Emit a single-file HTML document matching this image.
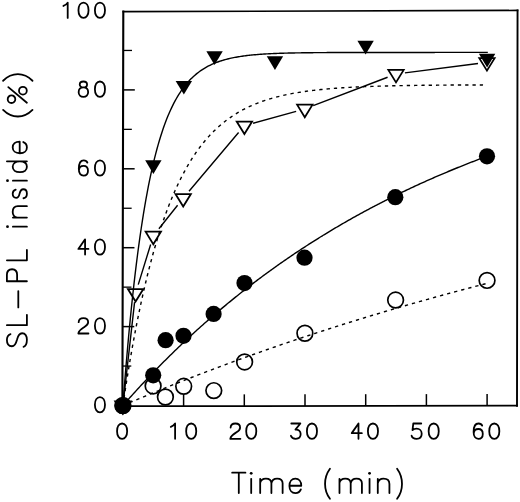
<!DOCTYPE html><html><head><meta charset="utf-8"><style>html,body{margin:0;padding:0;background:#fff;}svg{display:block}</style></head><body>
<svg width="520" height="502" viewBox="0 0 520 502">
<rect width="520" height="502" fill="#fff"/>
<g stroke="#000" fill="none" stroke-linecap="square">
<line x1="123.3" y1="11.6" x2="122.4" y2="406.2" stroke-width="2.1"/>
<line x1="123.3" y1="11.6" x2="517.55" y2="10.4" stroke-width="1.6"/>
<line x1="517.55" y1="10.4" x2="517.0" y2="405.7" stroke-width="1.9"/>
<line x1="122.4" y1="406.2" x2="517.0" y2="405.7" stroke-width="1.8"/>
</g>
<g stroke="#000">
<line x1="122.49" y1="366.05" x2="131.29" y2="366.05" stroke-width="1.3"/>
<line x1="122.58" y1="326.60" x2="134.28" y2="326.60" stroke-width="1.5"/>
<line x1="122.67" y1="287.15" x2="131.47" y2="287.15" stroke-width="1.3"/>
<line x1="122.76" y1="247.70" x2="134.46" y2="247.70" stroke-width="1.5"/>
<line x1="122.85" y1="208.25" x2="131.65" y2="208.25" stroke-width="1.3"/>
<line x1="122.94" y1="168.80" x2="134.64" y2="168.80" stroke-width="1.5"/>
<line x1="123.03" y1="129.35" x2="131.83" y2="129.35" stroke-width="1.3"/>
<line x1="123.12" y1="89.90" x2="134.82" y2="89.90" stroke-width="1.5"/>
<line x1="123.21" y1="50.45" x2="132.01" y2="50.45" stroke-width="1.3"/>
<line x1="183.60" y1="406.12" x2="183.60" y2="394.42" stroke-width="1.5"/>
<line x1="244.30" y1="406.05" x2="244.30" y2="394.35" stroke-width="1.5"/>
<line x1="305.00" y1="405.97" x2="305.00" y2="394.27" stroke-width="1.5"/>
<line x1="365.70" y1="405.89" x2="365.70" y2="394.19" stroke-width="1.5"/>
<line x1="426.40" y1="405.81" x2="426.40" y2="394.11" stroke-width="1.5"/>
<line x1="487.10" y1="405.74" x2="487.10" y2="394.04" stroke-width="1.5"/>
</g>
<g fill="none" stroke="#000" stroke-linecap="round" stroke-linejoin="round">
<path transform="translate(67.70,17.90) scale(0.153) translate(0.0,0)" d="M0,0 V-100 C-6,-90 -16,-82 -28,-78" vector-effect="non-scaling-stroke" stroke-width="1.8"/>
<path transform="translate(83.50,17.90) scale(0.153) translate(-33.0,0)" d="M33,-100 C52.8,-100 66,-80.0 66,-50 C66,-20.0 52.8,0 33,0 C13.2,0 0,-20.0 0,-50 C0,-80.0 13.2,-100 33,-100 Z" vector-effect="non-scaling-stroke" stroke-width="1.8"/>
<path transform="translate(99.95,17.90) scale(0.153) translate(-33.0,0)" d="M33,-100 C52.8,-100 66,-80.0 66,-50 C66,-20.0 52.8,0 33,0 C13.2,0 0,-20.0 0,-50 C0,-80.0 13.2,-100 33,-100 Z" vector-effect="non-scaling-stroke" stroke-width="1.8"/>
<path transform="translate(83.40,96.80) scale(0.153) translate(-31.0,0)" d="M31,-100.0 C45.4,-100.0 55,-92.2 55,-80.5 C55,-68.8 45.4,-61.0 31,-61.0 C16.6,-61.0 7,-68.8 7,-80.5 C7,-92.2 16.6,-100.0 31,-100.0 Z M31,-61.0 C49.599999999999994,-61.0 62,-48.8 62,-30.5 C62,-12.2 49.599999999999994,0.0 31,0.0 C12.400000000000002,0.0 0,-12.2 0,-30.5 C0,-48.8 12.400000000000002,-61.0 31,-61.0 Z" vector-effect="non-scaling-stroke" stroke-width="1.8"/>
<path transform="translate(99.95,96.80) scale(0.153) translate(-33.0,0)" d="M33,-100 C52.8,-100 66,-80.0 66,-50 C66,-20.0 52.8,0 33,0 C13.2,0 0,-20.0 0,-50 C0,-80.0 13.2,-100 33,-100 Z" vector-effect="non-scaling-stroke" stroke-width="1.8"/>
<path transform="translate(83.40,175.70) scale(0.153) translate(-30.0,0)" d="M56,-86 C52,-96 43,-100 32,-100 C12,-100 0,-80 0,-45 C0,-15 12,0 31,0 C48,0 60,-13 60,-32 C60,-51 48,-64 31,-64 C14,-64 2,-52 1,-36" vector-effect="non-scaling-stroke" stroke-width="1.8"/>
<path transform="translate(99.95,175.70) scale(0.153) translate(-33.0,0)" d="M33,-100 C52.8,-100 66,-80.0 66,-50 C66,-20.0 52.8,0 33,0 C13.2,0 0,-20.0 0,-50 C0,-80.0 13.2,-100 33,-100 Z" vector-effect="non-scaling-stroke" stroke-width="1.8"/>
<path transform="translate(83.40,254.60) scale(0.153) translate(-33.0,0)" d="M44,0 V-100 L0,-37 H66" vector-effect="non-scaling-stroke" stroke-width="1.8"/>
<path transform="translate(99.95,254.60) scale(0.153) translate(-33.0,0)" d="M33,-100 C52.8,-100 66,-80.0 66,-50 C66,-20.0 52.8,0 33,0 C13.2,0 0,-20.0 0,-50 C0,-80.0 13.2,-100 33,-100 Z" vector-effect="non-scaling-stroke" stroke-width="1.8"/>
<path transform="translate(83.40,333.50) scale(0.153) translate(-33.0,0)" d="M2,-74 C3,-91 15,-100 33,-100 C52,-100 64,-89 64,-73 C64,-58 53,-50 38,-41 C20,-30 3,-20 0,0 H66" vector-effect="non-scaling-stroke" stroke-width="1.8"/>
<path transform="translate(99.95,333.50) scale(0.153) translate(-33.0,0)" d="M33,-100 C52.8,-100 66,-80.0 66,-50 C66,-20.0 52.8,0 33,0 C13.2,0 0,-20.0 0,-50 C0,-80.0 13.2,-100 33,-100 Z" vector-effect="non-scaling-stroke" stroke-width="1.8"/>
<path transform="translate(99.95,412.40) scale(0.153) translate(-33.0,0)" d="M33,-100 C52.8,-100 66,-80.0 66,-50 C66,-20.0 52.8,0 33,0 C13.2,0 0,-20.0 0,-50 C0,-80.0 13.2,-100 33,-100 Z" vector-effect="non-scaling-stroke" stroke-width="1.8"/>
<path transform="translate(122.10,438.80) scale(0.153) translate(-33.0,0)" d="M33,-100 C52.8,-100 66,-80.0 66,-50 C66,-20.0 52.8,0 33,0 C13.2,0 0,-20.0 0,-50 C0,-80.0 13.2,-100 33,-100 Z" vector-effect="non-scaling-stroke" stroke-width="1.8"/>
<path transform="translate(175.10,438.80) scale(0.153) translate(0.0,0)" d="M0,0 V-100 C-6,-90 -16,-82 -28,-78" vector-effect="non-scaling-stroke" stroke-width="1.8"/>
<path transform="translate(191.20,438.80) scale(0.153) translate(-33.0,0)" d="M33,-100 C52.8,-100 66,-80.0 66,-50 C66,-20.0 52.8,0 33,0 C13.2,0 0,-20.0 0,-50 C0,-80.0 13.2,-100 33,-100 Z" vector-effect="non-scaling-stroke" stroke-width="1.8"/>
<path transform="translate(235.35,438.80) scale(0.153) translate(-33.0,0)" d="M2,-74 C3,-91 15,-100 33,-100 C52,-100 64,-89 64,-73 C64,-58 53,-50 38,-41 C20,-30 3,-20 0,0 H66" vector-effect="non-scaling-stroke" stroke-width="1.8"/>
<path transform="translate(251.25,438.80) scale(0.153) translate(-33.0,0)" d="M33,-100 C52.8,-100 66,-80.0 66,-50 C66,-20.0 52.8,0 33,0 C13.2,0 0,-20.0 0,-50 C0,-80.0 13.2,-100 33,-100 Z" vector-effect="non-scaling-stroke" stroke-width="1.8"/>
<path transform="translate(295.75,438.80) scale(0.153) translate(-32.0,0)" d="M3,-100 H62 L30,-60 C50,-62 64,-50 64,-31 C64,-12 51,0 32,0 C16,0 4,-8 0,-20" vector-effect="non-scaling-stroke" stroke-width="1.8"/>
<path transform="translate(311.95,438.80) scale(0.153) translate(-33.0,0)" d="M33,-100 C52.8,-100 66,-80.0 66,-50 C66,-20.0 52.8,0 33,0 C13.2,0 0,-20.0 0,-50 C0,-80.0 13.2,-100 33,-100 Z" vector-effect="non-scaling-stroke" stroke-width="1.8"/>
<path transform="translate(356.80,438.80) scale(0.153) translate(-33.0,0)" d="M44,0 V-100 L0,-37 H66" vector-effect="non-scaling-stroke" stroke-width="1.8"/>
<path transform="translate(372.95,438.80) scale(0.153) translate(-33.0,0)" d="M33,-100 C52.8,-100 66,-80.0 66,-50 C66,-20.0 52.8,0 33,0 C13.2,0 0,-20.0 0,-50 C0,-80.0 13.2,-100 33,-100 Z" vector-effect="non-scaling-stroke" stroke-width="1.8"/>
<path transform="translate(416.65,438.80) scale(0.153) translate(-33.0,0)" d="M63,-100 H11 L6,-57 C13,-63 22,-66 33,-66 C52,-66 66,-53 66,-33 C66,-12 52,0 33,0 C16,0 3,-9 0,-20" vector-effect="non-scaling-stroke" stroke-width="1.8"/>
<path transform="translate(433.70,438.80) scale(0.153) translate(-33.0,0)" d="M33,-100 C52.8,-100 66,-80.0 66,-50 C66,-20.0 52.8,0 33,0 C13.2,0 0,-20.0 0,-50 C0,-80.0 13.2,-100 33,-100 Z" vector-effect="non-scaling-stroke" stroke-width="1.8"/>
<path transform="translate(478.20,438.80) scale(0.153) translate(-30.0,0)" d="M56,-86 C52,-96 43,-100 32,-100 C12,-100 0,-80 0,-45 C0,-15 12,0 31,0 C48,0 60,-13 60,-32 C60,-51 48,-64 31,-64 C14,-64 2,-52 1,-36" vector-effect="non-scaling-stroke" stroke-width="1.8"/>
<path transform="translate(494.30,438.80) scale(0.153) translate(-33.0,0)" d="M33,-100 C52.8,-100 66,-80.0 66,-50 C66,-20.0 52.8,0 33,0 C13.2,0 0,-20.0 0,-50 C0,-80.0 13.2,-100 33,-100 Z" vector-effect="non-scaling-stroke" stroke-width="1.8"/>
<path transform="translate(238.80,493.10) scale(0.204) translate(-32.5,0)" d="M0,-100 H65 M32.5,-100 V0" vector-effect="non-scaling-stroke" stroke-width="1.8"/>
<path transform="translate(251.20,493.10) scale(0.204) translate(0.0,0)" d="M0,-70 V0" vector-effect="non-scaling-stroke" stroke-width="1.8"/><circle transform="translate(251.20,493.10) scale(0.204) translate(0.0,0)" cx="0" cy="-97" r="7" fill="#000" stroke="none"/>
<path transform="translate(271.40,493.10) scale(0.204) translate(-55.0,0)" d="M0,-70 V0 M0,-50 C3,-64 13,-71 28,-71 C45,-71 55,-63 55,-48 V0 M55,-48 C58,-64 68,-71 83,-71 C100,-71 110,-63 110,-48 V0" vector-effect="non-scaling-stroke" stroke-width="1.8"/>
<path transform="translate(295.35,493.10) scale(0.204) translate(-29.0,0)" d="M1,-36 H58 C58,-58 46,-71 29,-71 C12,-71 0,-57 0,-35 C0,-13 12,0 29,0 C42,0 52,-7 56,-18" vector-effect="non-scaling-stroke" stroke-width="1.8"/>
<path transform="translate(327.50,493.10) scale(0.204) translate(-12.0,0)" d="M24,-119 C8,-97 0,-73 0,-45 C0,-17 8,6 24,28" vector-effect="non-scaling-stroke" stroke-width="1.8"/>
<path transform="translate(350.70,493.10) scale(0.204) translate(-55.0,0)" d="M0,-70 V0 M0,-50 C3,-64 13,-71 28,-71 C45,-71 55,-63 55,-48 V0 M55,-48 C58,-64 68,-71 83,-71 C100,-71 110,-63 110,-48 V0" vector-effect="non-scaling-stroke" stroke-width="1.8"/>
<path transform="translate(369.55,493.10) scale(0.204) translate(0.0,0)" d="M0,-70 V0" vector-effect="non-scaling-stroke" stroke-width="1.8"/><circle transform="translate(369.55,493.10) scale(0.204) translate(0.0,0)" cx="0" cy="-97" r="7" fill="#000" stroke="none"/>
<path transform="translate(383.60,493.10) scale(0.204) translate(-28.5,0)" d="M0,-70 V0 M0,-48 C3,-63 13,-71 28,-71 C46,-71 57,-62 57,-45 V0" vector-effect="non-scaling-stroke" stroke-width="1.8"/>
<path transform="translate(399.55,493.10) scale(0.204) translate(-12.0,0)" d="M0,-119 C16,-97 24,-73 24,-45 C24,-17 16,6 0,28" vector-effect="non-scaling-stroke" stroke-width="1.8"/>
<g transform="rotate(-90)">
<path transform="translate(-340.05,26.90) scale(0.2) translate(-34.0,0)" d="M64,-82 C60,-94 49,-100 34,-100 C16,-100 3,-91 3,-75 C3,-58 18,-54 34,-50 C52,-46 68,-40 68,-24 C68,-8 54,0 35,0 C16,0 3,-6 0,-17" vector-effect="non-scaling-stroke" stroke-width="1.8"/>
<path transform="translate(-320.00,26.90) scale(0.2) translate(-26.0,0)" d="M0,-100 V0 H52" vector-effect="non-scaling-stroke" stroke-width="1.8"/>
<path transform="translate(-299.25,26.90) scale(0.2) translate(-41.0,0)" d="M0,-43 H82" vector-effect="non-scaling-stroke" stroke-width="1.8"/>
<path transform="translate(-275.25,26.90) scale(0.2) translate(-30.0,0)" d="M0,0 V-100 H32 C50,-100 60,-89 60,-74 C60,-59 50,-49 32,-49 H0" vector-effect="non-scaling-stroke" stroke-width="1.8"/>
<path transform="translate(-255.15,26.90) scale(0.2) translate(-26.0,0)" d="M0,-100 V0 H52" vector-effect="non-scaling-stroke" stroke-width="1.8"/>
<path transform="translate(-226.70,26.90) scale(0.2) translate(0.0,0)" d="M0,-70 V0" vector-effect="non-scaling-stroke" stroke-width="1.8"/><circle transform="translate(-226.70,26.90) scale(0.2) translate(0.0,0)" cx="0" cy="-97" r="7" fill="#000" stroke="none"/>
<path transform="translate(-211.90,26.90) scale(0.2) translate(-28.5,0)" d="M0,-70 V0 M0,-48 C3,-63 13,-71 28,-71 C46,-71 57,-62 57,-45 V0" vector-effect="non-scaling-stroke" stroke-width="1.8"/>
<path transform="translate(-193.75,26.90) scale(0.2) translate(-22.5,0)" d="M43,-56 C40,-66 33,-71 22,-71 C10,-71 2,-65 2,-54 C2,-43 12,-39 22,-37 C35,-34 45,-29 45,-18 C45,-6 35,0 23,0 C10,0 2,-6 0,-17" vector-effect="non-scaling-stroke" stroke-width="1.8"/>
<path transform="translate(-180.70,26.90) scale(0.2) translate(0.0,0)" d="M0,-70 V0" vector-effect="non-scaling-stroke" stroke-width="1.8"/><circle transform="translate(-180.70,26.90) scale(0.2) translate(0.0,0)" cx="0" cy="-97" r="7" fill="#000" stroke="none"/>
<path transform="translate(-166.75,26.90) scale(0.2) translate(-27.0,0)" d="M54,-100 V0 M54,-35 C54,-57 43,-71 27,-71 C10,-71 0,-57 0,-35 C0,-13 10,0 27,0 C43,0 54,-13 54,-35" vector-effect="non-scaling-stroke" stroke-width="1.8"/>
<path transform="translate(-147.45,26.90) scale(0.2) translate(-29.0,0)" d="M1,-36 H58 C58,-58 46,-71 29,-71 C12,-71 0,-57 0,-35 C0,-13 12,0 29,0 C42,0 52,-7 56,-18" vector-effect="non-scaling-stroke" stroke-width="1.8"/>
<path transform="translate(-113.20,26.90) scale(0.2) translate(-16.5,0)" d="M33,-119 C11,-97 0,-73 0,-45 C0,-17 11,6 33,28" vector-effect="non-scaling-stroke" stroke-width="1.8"/>
<path transform="translate(-94.90,26.90) scale(0.2) translate(-40.0,0)" d="M1,0 L79,-93 M18.5,-96 C29.14,-96 37.5,-87.64 37.5,-77 C37.5,-66.36 29.14,-58 18.5,-58 C7.859999999999999,-58 -0.5,-66.36 -0.5,-77 C-0.5,-87.64 7.859999999999999,-96 18.5,-96 Z M61,-39.5 C71.92,-39.5 80.5,-30.92 80.5,-20 C80.5,-9.079999999999998 71.92,-0.5 61,-0.5 C50.08,-0.5 41.5,-9.079999999999998 41.5,-20 C41.5,-30.92 50.08,-39.5 61,-39.5 Z" vector-effect="non-scaling-stroke" stroke-width="1.8"/>
<path transform="translate(-77.45,26.90) scale(0.2) translate(-16.5,0)" d="M0,-119 C22,-97 33,-73 33,-45 C33,-17 22,6 0,28" vector-effect="non-scaling-stroke" stroke-width="1.8"/>
</g>
</g>
<path d="M122.90,405.50 L124.11,397.33 L125.33,389.37 L126.54,381.61 L127.76,374.05 L128.97,366.68 L130.18,359.50 L131.40,352.51 L132.61,345.69 L133.83,339.04 L135.04,332.56 L136.25,326.25 L137.47,320.10 L138.68,314.11 L139.90,308.27 L141.11,302.58 L142.32,297.03 L143.54,291.62 L144.75,286.35 L145.97,281.22 L147.18,276.22 L148.39,271.34 L149.61,266.59 L150.82,261.96 L152.04,257.44 L153.25,253.05 L154.46,248.76 L155.68,244.58 L156.89,240.51 L158.11,236.55 L159.32,232.68 L160.53,228.91 L161.75,225.24 L162.96,221.66 L164.18,218.18 L165.39,214.78 L166.60,211.47 L167.82,208.24 L169.03,205.10 L170.25,202.03 L171.46,199.05 L172.67,196.13 L173.89,193.30 L175.10,190.53 L176.32,187.84 L177.53,185.21 L178.74,182.66 L179.96,180.16 L181.17,177.73 L182.39,175.37 L183.60,173.06 L184.81,170.81 L186.03,168.62 L187.24,166.48 L188.46,164.40 L189.67,162.37 L190.88,160.40 L192.10,158.47 L193.31,156.59 L194.53,154.76 L195.74,152.98 L196.95,151.24 L198.17,149.55 L199.38,147.90 L200.60,146.29 L201.81,144.73 L203.02,143.20 L204.24,141.71 L205.45,140.26 L206.67,138.85 L207.88,137.47 L209.09,136.13 L210.31,134.82 L211.52,133.55 L212.74,132.30 L213.95,131.09 L215.16,129.91 L216.38,128.76 L217.59,127.64 L218.81,126.55 L220.02,125.49 L221.23,124.45 L222.45,123.44 L223.66,122.45 L224.88,121.49 L226.09,120.56 L227.30,119.65 L228.52,118.76 L229.73,117.89 L230.95,117.05 L232.16,116.23 L233.37,115.43 L234.59,114.65 L235.80,113.88 L237.02,113.14 L238.23,112.42 L239.44,111.72 L240.66,111.03 L241.87,110.36 L243.09,109.71 L244.30,109.07 L245.51,108.46 L246.73,107.85 L247.94,107.26 L249.16,106.69 L250.37,106.13 L251.58,105.59 L252.80,105.06 L254.01,104.54 L255.23,104.04 L256.44,103.55 L257.65,103.07 L258.87,102.60 L260.08,102.15 L261.30,101.71 L262.51,101.28 L263.72,100.86 L264.94,100.45 L266.15,100.05 L267.37,99.66 L268.58,99.28 L269.79,98.91 L271.01,98.55 L272.22,98.20 L273.44,97.86 L274.65,97.52 L275.86,97.20 L277.08,96.88 L278.29,96.57 L279.51,96.27 L280.72,95.98 L281.93,95.69 L283.15,95.42 L284.36,95.14 L285.58,94.88 L286.79,94.62 L288.00,94.37 L289.22,94.13 L290.43,93.89 L291.65,93.66 L292.86,93.43 L294.07,93.21 L295.29,92.99 L296.50,92.79 L297.72,92.58 L298.93,92.38 L300.14,92.19 L301.36,92.00 L302.57,91.82 L303.79,91.64 L305.00,91.46 L306.21,91.29 L307.43,91.12 L308.64,90.96 L309.86,90.81 L311.07,90.65 L312.28,90.50 L313.50,90.36 L314.71,90.21 L315.93,90.08 L317.14,89.94 L318.35,89.81 L319.57,89.68 L320.78,89.56 L322.00,89.43 L323.21,89.31 L324.42,89.20 L325.64,89.09 L326.85,88.98 L328.07,88.87 L329.28,88.76 L330.49,88.66 L331.71,88.56 L332.92,88.47 L334.14,88.37 L335.35,88.28 L336.56,88.19 L337.78,88.10 L338.99,88.02 L340.21,87.94 L341.42,87.86 L342.63,87.78 L343.85,87.70 L345.06,87.63 L346.28,87.55 L347.49,87.48 L348.70,87.41 L349.92,87.35 L351.13,87.28 L352.35,87.22 L353.56,87.16 L354.77,87.09 L355.99,87.04 L357.20,86.98 L358.42,86.92 L359.63,86.87 L360.84,86.81 L362.06,86.76 L363.27,86.71 L364.49,86.66 L365.70,86.61 L366.91,86.57 L368.13,86.52 L369.34,86.48 L370.56,86.43 L371.77,86.39 L372.98,86.35 L374.20,86.31 L375.41,86.27 L376.63,86.23 L377.84,86.19 L379.05,86.16 L380.27,86.12 L381.48,86.09 L382.70,86.05 L383.91,86.02 L385.12,85.99 L386.34,85.96 L387.55,85.93 L388.77,85.90 L389.98,85.87 L391.19,85.84 L392.41,85.82 L393.62,85.79 L394.84,85.76 L396.05,85.74 L397.26,85.71 L398.48,85.69 L399.69,85.67 L400.91,85.64 L402.12,85.62 L403.33,85.60 L404.55,85.58 L405.76,85.56 L406.98,85.54 L408.19,85.52 L409.40,85.50 L410.62,85.48 L411.83,85.46 L413.05,85.44 L414.26,85.43 L415.47,85.41 L416.69,85.39 L417.90,85.38 L419.12,85.36 L420.33,85.35 L421.54,85.33 L422.76,85.32 L423.97,85.31 L425.19,85.29 L426.40,85.28 L427.61,85.27 L428.83,85.25 L430.04,85.24 L431.26,85.23 L432.47,85.22 L433.68,85.21 L434.90,85.19 L436.11,85.18 L437.33,85.17 L438.54,85.16 L439.75,85.15 L440.97,85.14 L442.18,85.13 L443.40,85.12 L444.61,85.12 L445.82,85.11 L447.04,85.10 L448.25,85.09 L449.47,85.08 L450.68,85.07 L451.89,85.07 L453.11,85.06 L454.32,85.05 L455.54,85.04 L456.75,85.04 L457.96,85.03 L459.18,85.02 L460.39,85.02 L461.61,85.01 L462.82,85.01 L464.03,85.00 L465.25,84.99 L466.46,84.99 L467.68,84.98 L468.89,84.98 L470.10,84.97 L471.32,84.97 L472.53,84.96 L473.75,84.96 L474.96,84.95 L476.17,84.95 L477.39,84.94 L478.60,84.94 L479.82,84.93 L481.03,84.93 L482.24,84.93 L483.46,84.92 L484.67,84.92 L485.89,84.91 L487.10,84.91" fill="none" stroke="#000" stroke-width="1.4" stroke-dasharray="3.3,4"/>
<path d="M123.91,396.56 L134.59,302.13 M138.25,284.59 L150.65,244.44 M158.90,228.79 L177.60,205.23 M189.01,191.31 L238.59,132.56 M253.07,123.28 L296.13,111.33 M313.21,105.71 L387.59,77.24 M404.93,72.87 L478.02,63.44" fill="none" stroke="#000" stroke-width="1.4"/>
<polygon points="115.20,401.31 130.60,401.31 122.90,413.87" fill="none" stroke="#000" stroke-width="1.75" stroke-linejoin="miter"/>
<polygon points="127.90,289.00 143.30,289.00 135.60,301.56" fill="none" stroke="#000" stroke-width="1.75" stroke-linejoin="miter"/>
<polygon points="145.60,231.65 161.00,231.65 153.30,244.21" fill="none" stroke="#000" stroke-width="1.75" stroke-linejoin="miter"/>
<polygon points="175.50,194.00 190.90,194.00 183.20,206.56" fill="none" stroke="#000" stroke-width="1.75" stroke-linejoin="miter"/>
<polygon points="236.70,121.50 252.10,121.50 244.40,134.06" fill="none" stroke="#000" stroke-width="1.75" stroke-linejoin="miter"/>
<polygon points="297.10,104.74 312.50,104.74 304.80,117.30" fill="none" stroke="#000" stroke-width="1.75" stroke-linejoin="miter"/>
<polygon points="388.30,69.84 403.70,69.84 396.00,82.40" fill="none" stroke="#000" stroke-width="1.75" stroke-linejoin="miter"/>
<polygon points="479.25,58.10 494.65,58.10 486.95,70.66" fill="none" stroke="#000" stroke-width="1.75" stroke-linejoin="miter"/>
<path d="M122.90,405.50 L124.12,389.53 L125.33,374.28 L126.55,359.72 L127.77,345.82 L128.98,332.54 L130.20,319.87 L131.41,307.77 L132.63,296.22 L133.85,285.19 L135.06,274.66 L136.28,264.61 L137.50,255.01 L138.71,245.85 L139.93,237.10 L141.15,228.74 L142.36,220.77 L143.58,213.15 L144.80,205.88 L146.01,198.94 L147.23,192.31 L148.44,185.98 L149.66,179.94 L150.88,174.17 L152.09,168.66 L153.31,163.41 L154.53,158.38 L155.74,153.59 L156.96,149.01 L158.18,144.65 L159.39,140.47 L160.61,136.49 L161.83,132.69 L163.04,129.06 L164.26,125.59 L165.47,122.28 L166.69,119.12 L167.91,116.10 L169.12,113.22 L170.34,110.47 L171.56,107.85 L172.77,105.34 L173.99,102.94 L175.21,100.66 L176.42,98.48 L177.64,96.39 L178.86,94.40 L180.07,92.51 L181.29,90.69 L182.50,88.96 L183.72,87.31 L184.94,85.73 L186.15,84.22 L187.37,82.78 L188.59,81.41 L189.80,80.10 L191.02,78.85 L192.24,77.65 L193.45,76.51 L194.67,75.42 L195.89,74.38 L197.10,73.39 L198.32,72.44 L199.53,71.53 L200.75,70.67 L201.97,69.84 L203.18,69.06 L204.40,68.30 L205.62,67.58 L206.83,66.90 L208.05,66.24 L209.27,65.62 L210.48,65.02 L211.70,64.45 L212.92,63.91 L214.13,63.39 L215.35,62.89 L216.56,62.42 L217.78,61.97 L219.00,61.53 L220.21,61.12 L221.43,60.73 L222.65,60.35 L223.86,59.99 L225.08,59.65 L226.30,59.32 L227.51,59.01 L228.73,58.71 L229.95,58.43 L231.16,58.16 L232.38,57.90 L233.59,57.65 L234.81,57.41 L236.03,57.19 L237.24,56.97 L238.46,56.77 L239.68,56.57 L240.89,56.38 L242.11,56.20 L243.33,56.03 L244.54,55.87 L245.76,55.71 L246.98,55.56 L248.19,55.42 L249.41,55.29 L250.62,55.16 L251.84,55.03 L253.06,54.92 L254.27,54.80 L255.49,54.69 L256.71,54.59 L257.92,54.49 L259.14,54.40 L260.36,54.31 L261.57,54.23 L262.79,54.14 L264.01,54.07 L265.22,53.99 L266.44,53.92 L267.65,53.85 L268.87,53.79 L270.09,53.73 L271.30,53.67 L272.52,53.61 L273.74,53.56 L274.95,53.51 L276.17,53.46 L277.39,53.41 L278.60,53.37 L279.82,53.32 L281.04,53.28 L282.25,53.24 L283.47,53.21 L284.68,53.17 L285.90,53.14 L287.12,53.10 L288.33,53.07 L289.55,53.04 L290.77,53.02 L291.98,52.99 L293.20,52.96 L294.42,52.94 L295.63,52.92 L296.85,52.89 L298.07,52.87 L299.28,52.85 L300.50,52.83 L301.71,52.81 L302.93,52.80 L304.15,52.78 L305.36,52.76 L306.58,52.75 L307.80,52.73 L309.01,52.72 L310.23,52.71 L311.45,52.69 L312.66,52.68 L313.88,52.67 L315.10,52.66 L316.31,52.65 L317.53,52.64 L318.74,52.63 L319.96,52.62 L321.18,52.61 L322.39,52.60 L323.61,52.59 L324.83,52.58 L326.04,52.58 L327.26,52.57 L328.48,52.56 L329.69,52.56 L330.91,52.55 L332.13,52.55 L333.34,52.54 L334.56,52.53 L335.77,52.53 L336.99,52.52 L338.21,52.52 L339.42,52.52 L340.64,52.51 L341.86,52.51 L343.07,52.50 L344.29,52.50 L345.51,52.50 L346.72,52.49 L347.94,52.49 L349.16,52.49 L350.37,52.48 L351.59,52.48 L352.80,52.48 L354.02,52.48 L355.24,52.47 L356.45,52.47 L357.67,52.47 L358.89,52.47 L360.10,52.46 L361.32,52.46 L362.54,52.46 L363.75,52.46 L364.97,52.46 L366.19,52.46 L367.40,52.45 L368.62,52.45 L369.83,52.45 L371.05,52.45 L372.27,52.45 L373.48,52.45 L374.70,52.45 L375.92,52.45 L377.13,52.44 L378.35,52.44 L379.57,52.44 L380.78,52.44 L382.00,52.44 L383.22,52.44 L384.43,52.44 L385.65,52.44 L386.86,52.44 L388.08,52.44 L389.30,52.44 L390.51,52.44 L391.73,52.44 L392.95,52.43 L394.16,52.43 L395.38,52.43 L396.60,52.43 L397.81,52.43 L399.03,52.43 L400.25,52.43 L401.46,52.43 L402.68,52.43 L403.89,52.43 L405.11,52.43 L406.33,52.43 L407.54,52.43 L408.76,52.43 L409.98,52.43 L411.19,52.43 L412.41,52.43 L413.63,52.43 L414.84,52.43 L416.06,52.43 L417.28,52.43 L418.49,52.43 L419.71,52.43 L420.92,52.43 L422.14,52.43 L423.36,52.43 L424.57,52.43 L425.79,52.43 L427.01,52.43 L428.22,52.43 L429.44,52.43 L430.66,52.43 L431.87,52.43 L433.09,52.43 L434.31,52.43 L435.52,52.42 L436.74,52.42 L437.95,52.42 L439.17,52.42 L440.39,52.42 L441.60,52.42 L442.82,52.42 L444.04,52.42 L445.25,52.42 L446.47,52.42 L447.69,52.42 L448.90,52.42 L450.12,52.42 L451.34,52.42 L452.55,52.42 L453.77,52.42 L454.98,52.42 L456.20,52.42 L457.42,52.42 L458.63,52.42 L459.85,52.42 L461.07,52.42 L462.28,52.42 L463.50,52.42 L464.72,52.42 L465.93,52.42 L467.15,52.42 L468.37,52.42 L469.58,52.42 L470.80,52.42 L472.01,52.42 L473.23,52.42 L474.45,52.42 L475.66,52.42 L476.88,52.42 L478.10,52.42 L479.31,52.42 L480.53,52.42 L481.75,52.42 L482.96,52.42 L484.18,52.42 L485.40,52.42 L486.61,52.42 L487.83,52.42" fill="none" stroke="#000" stroke-width="1.4"/>
<polygon points="114.60,401.00 131.00,401.00 122.80,414.60" fill="#000"/>
<polygon points="145.15,160.30 161.55,160.30 153.35,173.90" fill="#000"/>
<polygon points="175.65,80.90 192.05,80.90 183.85,94.50" fill="#000"/>
<polygon points="206.35,51.35 222.75,51.35 214.55,64.95" fill="#000"/>
<polygon points="266.75,56.35 283.15,56.35 274.95,69.95" fill="#000"/>
<polygon points="357.40,40.85 373.80,40.85 365.60,54.45" fill="#000"/>
<polygon points="478.90,53.80 495.30,53.80 487.10,67.40" fill="#000"/>
<circle cx="122.9" cy="405.5" r="7.85" fill="none" stroke="#000" stroke-width="1.7"/>
<circle cx="153.1" cy="385.95" r="7.85" fill="none" stroke="#000" stroke-width="1.7"/>
<circle cx="165.4" cy="397.0" r="7.85" fill="none" stroke="#000" stroke-width="1.7"/>
<circle cx="183.7" cy="386.3" r="7.85" fill="none" stroke="#000" stroke-width="1.7"/>
<circle cx="213.8" cy="390.6" r="7.85" fill="none" stroke="#000" stroke-width="1.7"/>
<circle cx="244.6" cy="361.95" r="7.85" fill="none" stroke="#000" stroke-width="1.7"/>
<circle cx="304.9" cy="333.25" r="7.85" fill="none" stroke="#000" stroke-width="1.7"/>
<circle cx="395.6" cy="300.05" r="7.85" fill="none" stroke="#000" stroke-width="1.7"/>
<circle cx="487.05" cy="280.4" r="7.85" fill="none" stroke="#000" stroke-width="1.7"/>
<path d="M122.90,405.50 L124.11,404.98 L125.33,404.46 L126.54,403.94 L127.76,403.43 L128.97,402.91 L130.18,402.40 L131.40,401.88 L132.61,401.37 L133.83,400.86 L135.04,400.35 L136.25,399.84 L137.47,399.33 L138.68,398.82 L139.90,398.31 L141.11,397.80 L142.32,397.30 L143.54,396.79 L144.75,396.29 L145.97,395.78 L147.18,395.28 L148.39,394.78 L149.61,394.28 L150.82,393.78 L152.04,393.28 L153.25,392.78 L154.46,392.28 L155.68,391.78 L156.89,391.29 L158.11,390.79 L159.32,390.30 L160.53,389.80 L161.75,389.31 L162.96,388.82 L164.18,388.33 L165.39,387.84 L166.60,387.35 L167.82,386.86 L169.03,386.37 L170.25,385.89 L171.46,385.40 L172.67,384.92 L173.89,384.43 L175.10,383.95 L176.32,383.47 L177.53,382.98 L178.74,382.50 L179.96,382.02 L181.17,381.54 L182.39,381.06 L183.60,380.59 L184.81,380.11 L186.03,379.63 L187.24,379.16 L188.46,378.68 L189.67,378.21 L190.88,377.74 L192.10,377.26 L193.31,376.79 L194.53,376.32 L195.74,375.85 L196.95,375.38 L198.17,374.92 L199.38,374.45 L200.60,373.98 L201.81,373.52 L203.02,373.05 L204.24,372.59 L205.45,372.12 L206.67,371.66 L207.88,371.20 L209.09,370.74 L210.31,370.28 L211.52,369.82 L212.74,369.36 L213.95,368.90 L215.16,368.44 L216.38,367.99 L217.59,367.53 L218.81,367.08 L220.02,366.62 L221.23,366.17 L222.45,365.72 L223.66,365.27 L224.88,364.81 L226.09,364.36 L227.30,363.92 L228.52,363.47 L229.73,363.02 L230.95,362.57 L232.16,362.12 L233.37,361.68 L234.59,361.23 L235.80,360.79 L237.02,360.35 L238.23,359.90 L239.44,359.46 L240.66,359.02 L241.87,358.58 L243.09,358.14 L244.30,357.70 L245.51,357.26 L246.73,356.83 L247.94,356.39 L249.16,355.95 L250.37,355.52 L251.58,355.08 L252.80,354.65 L254.01,354.22 L255.23,353.79 L256.44,353.35 L257.65,352.92 L258.87,352.49 L260.08,352.06 L261.30,351.64 L262.51,351.21 L263.72,350.78 L264.94,350.35 L266.15,349.93 L267.37,349.50 L268.58,349.08 L269.79,348.66 L271.01,348.23 L272.22,347.81 L273.44,347.39 L274.65,346.97 L275.86,346.55 L277.08,346.13 L278.29,345.71 L279.51,345.29 L280.72,344.88 L281.93,344.46 L283.15,344.05 L284.36,343.63 L285.58,343.22 L286.79,342.80 L288.00,342.39 L289.22,341.98 L290.43,341.57 L291.65,341.16 L292.86,340.75 L294.07,340.34 L295.29,339.93 L296.50,339.52 L297.72,339.11 L298.93,338.71 L300.14,338.30 L301.36,337.89 L302.57,337.49 L303.79,337.09 L305.00,336.68 L306.21,336.28 L307.43,335.88 L308.64,335.48 L309.86,335.08 L311.07,334.68 L312.28,334.28 L313.50,333.88 L314.71,333.48 L315.93,333.09 L317.14,332.69 L318.35,332.29 L319.57,331.90 L320.78,331.51 L322.00,331.11 L323.21,330.72 L324.42,330.33 L325.64,329.93 L326.85,329.54 L328.07,329.15 L329.28,328.76 L330.49,328.37 L331.71,327.99 L332.92,327.60 L334.14,327.21 L335.35,326.83 L336.56,326.44 L337.78,326.05 L338.99,325.67 L340.21,325.29 L341.42,324.90 L342.63,324.52 L343.85,324.14 L345.06,323.76 L346.28,323.38 L347.49,323.00 L348.70,322.62 L349.92,322.24 L351.13,321.86 L352.35,321.49 L353.56,321.11 L354.77,320.73 L355.99,320.36 L357.20,319.98 L358.42,319.61 L359.63,319.23 L360.84,318.86 L362.06,318.49 L363.27,318.12 L364.49,317.75 L365.70,317.38 L366.91,317.01 L368.13,316.64 L369.34,316.27 L370.56,315.90 L371.77,315.54 L372.98,315.17 L374.20,314.80 L375.41,314.44 L376.63,314.07 L377.84,313.71 L379.05,313.35 L380.27,312.98 L381.48,312.62 L382.70,312.26 L383.91,311.90 L385.12,311.54 L386.34,311.18 L387.55,310.82 L388.77,310.46 L389.98,310.10 L391.19,309.75 L392.41,309.39 L393.62,309.03 L394.84,308.68 L396.05,308.32 L397.26,307.97 L398.48,307.61 L399.69,307.26 L400.91,306.91 L402.12,306.56 L403.33,306.21 L404.55,305.86 L405.76,305.51 L406.98,305.16 L408.19,304.81 L409.40,304.46 L410.62,304.11 L411.83,303.76 L413.05,303.42 L414.26,303.07 L415.47,302.73 L416.69,302.38 L417.90,302.04 L419.12,301.69 L420.33,301.35 L421.54,301.01 L422.76,300.67 L423.97,300.33 L425.19,299.98 L426.40,299.64 L427.61,299.30 L428.83,298.97 L430.04,298.63 L431.26,298.29 L432.47,297.95 L433.68,297.62 L434.90,297.28 L436.11,296.94 L437.33,296.61 L438.54,296.28 L439.75,295.94 L440.97,295.61 L442.18,295.28 L443.40,294.94 L444.61,294.61 L445.82,294.28 L447.04,293.95 L448.25,293.62 L449.47,293.29 L450.68,292.96 L451.89,292.63 L453.11,292.31 L454.32,291.98 L455.54,291.65 L456.75,291.33 L457.96,291.00 L459.18,290.68 L460.39,290.35 L461.61,290.03 L462.82,289.71 L464.03,289.38 L465.25,289.06 L466.46,288.74 L467.68,288.42 L468.89,288.10 L470.10,287.78 L471.32,287.46 L472.53,287.14 L473.75,286.82 L474.96,286.50 L476.17,286.19 L477.39,285.87 L478.60,285.55 L479.82,285.24 L481.03,284.92 L482.24,284.61 L483.46,284.30 L484.67,283.98 L485.89,283.67 L487.10,283.36" fill="none" stroke="#000" stroke-width="1.4" stroke-dasharray="3.3,4"/>
<path d="M122.90,405.50 L124.11,404.12 L125.33,402.75 L126.54,401.38 L127.76,400.01 L128.97,398.65 L130.18,397.30 L131.40,395.95 L132.61,394.60 L133.83,393.26 L135.04,391.93 L136.25,390.60 L137.47,389.28 L138.68,387.96 L139.90,386.64 L141.11,385.33 L142.32,384.03 L143.54,382.73 L144.75,381.43 L145.97,380.14 L147.18,378.86 L148.39,377.58 L149.61,376.30 L150.82,375.03 L152.04,373.77 L153.25,372.50 L154.46,371.25 L155.68,370.00 L156.89,368.75 L158.11,367.51 L159.32,366.27 L160.53,365.03 L161.75,363.81 L162.96,362.58 L164.18,361.36 L165.39,360.15 L166.60,358.94 L167.82,357.73 L169.03,356.53 L170.25,355.33 L171.46,354.14 L172.67,352.95 L173.89,351.77 L175.10,350.59 L176.32,349.41 L177.53,348.24 L178.74,347.08 L179.96,345.91 L181.17,344.76 L182.39,343.60 L183.60,342.45 L184.81,341.31 L186.03,340.17 L187.24,339.03 L188.46,337.90 L189.67,336.77 L190.88,335.65 L192.10,334.53 L193.31,333.42 L194.53,332.31 L195.74,331.20 L196.95,330.10 L198.17,329.00 L199.38,327.90 L200.60,326.81 L201.81,325.73 L203.02,324.65 L204.24,323.57 L205.45,322.49 L206.67,321.42 L207.88,320.36 L209.09,319.30 L210.31,318.24 L211.52,317.18 L212.74,316.13 L213.95,315.09 L215.16,314.04 L216.38,313.01 L217.59,311.97 L218.81,310.94 L220.02,309.91 L221.23,308.89 L222.45,307.87 L223.66,306.86 L224.88,305.84 L226.09,304.84 L227.30,303.83 L228.52,302.83 L229.73,301.84 L230.95,300.84 L232.16,299.85 L233.37,298.87 L234.59,297.89 L235.80,296.91 L237.02,295.93 L238.23,294.96 L239.44,293.99 L240.66,293.03 L241.87,292.07 L243.09,291.11 L244.30,290.16 L245.51,289.21 L246.73,288.27 L247.94,287.32 L249.16,286.39 L250.37,285.45 L251.58,284.52 L252.80,283.59 L254.01,282.67 L255.23,281.74 L256.44,280.83 L257.65,279.91 L258.87,279.00 L260.08,278.09 L261.30,277.19 L262.51,276.29 L263.72,275.39 L264.94,274.50 L266.15,273.61 L267.37,272.72 L268.58,271.83 L269.79,270.95 L271.01,270.07 L272.22,269.20 L273.44,268.33 L274.65,267.46 L275.86,266.60 L277.08,265.74 L278.29,264.88 L279.51,264.02 L280.72,263.17 L281.93,262.32 L283.15,261.48 L284.36,260.63 L285.58,259.80 L286.79,258.96 L288.00,258.13 L289.22,257.30 L290.43,256.47 L291.65,255.65 L292.86,254.83 L294.07,254.01 L295.29,253.19 L296.50,252.38 L297.72,251.57 L298.93,250.77 L300.14,249.97 L301.36,249.17 L302.57,248.37 L303.79,247.58 L305.00,246.79 L306.21,246.00 L307.43,245.22 L308.64,244.43 L309.86,243.66 L311.07,242.88 L312.28,242.11 L313.50,241.34 L314.71,240.57 L315.93,239.81 L317.14,239.04 L318.35,238.29 L319.57,237.53 L320.78,236.78 L322.00,236.03 L323.21,235.28 L324.42,234.54 L325.64,233.79 L326.85,233.06 L328.07,232.32 L329.28,231.59 L330.49,230.85 L331.71,230.13 L332.92,229.40 L334.14,228.68 L335.35,227.96 L336.56,227.24 L337.78,226.53 L338.99,225.82 L340.21,225.11 L341.42,224.40 L342.63,223.70 L343.85,223.00 L345.06,222.30 L346.28,221.60 L347.49,220.91 L348.70,220.22 L349.92,219.53 L351.13,218.84 L352.35,218.16 L353.56,217.48 L354.77,216.80 L355.99,216.13 L357.20,215.45 L358.42,214.78 L359.63,214.11 L360.84,213.45 L362.06,212.79 L363.27,212.13 L364.49,211.47 L365.70,210.81 L366.91,210.16 L368.13,209.51 L369.34,208.86 L370.56,208.21 L371.77,207.57 L372.98,206.93 L374.20,206.29 L375.41,205.65 L376.63,205.02 L377.84,204.39 L379.05,203.76 L380.27,203.13 L381.48,202.51 L382.70,201.89 L383.91,201.27 L385.12,200.65 L386.34,200.03 L387.55,199.42 L388.77,198.81 L389.98,198.20 L391.19,197.60 L392.41,196.99 L393.62,196.39 L394.84,195.79 L396.05,195.19 L397.26,194.60 L398.48,194.01 L399.69,193.42 L400.91,192.83 L402.12,192.24 L403.33,191.66 L404.55,191.08 L405.76,190.50 L406.98,189.92 L408.19,189.35 L409.40,188.77 L410.62,188.20 L411.83,187.63 L413.05,187.07 L414.26,186.50 L415.47,185.94 L416.69,185.38 L417.90,184.82 L419.12,184.26 L420.33,183.71 L421.54,183.16 L422.76,182.61 L423.97,182.06 L425.19,181.52 L426.40,180.97 L427.61,180.43 L428.83,179.89 L430.04,179.35 L431.26,178.82 L432.47,178.28 L433.68,177.75 L434.90,177.22 L436.11,176.69 L437.33,176.17 L438.54,175.64 L439.75,175.12 L440.97,174.60 L442.18,174.08 L443.40,173.57 L444.61,173.05 L445.82,172.54 L447.04,172.03 L448.25,171.52 L449.47,171.02 L450.68,170.51 L451.89,170.01 L453.11,169.51 L454.32,169.01 L455.54,168.51 L456.75,168.02 L457.96,167.52 L459.18,167.03 L460.39,166.54 L461.61,166.06 L462.82,165.57 L464.03,165.09 L465.25,164.60 L466.46,164.12 L467.68,163.64 L468.89,163.17 L470.10,162.69 L471.32,162.22 L472.53,161.75 L473.75,161.28 L474.96,160.81 L476.17,160.34 L477.39,159.88 L478.60,159.41 L479.82,158.95 L481.03,158.49 L482.24,158.03 L483.46,157.58 L484.67,157.12 L485.89,156.67 L487.10,156.22" fill="none" stroke="#000" stroke-width="1.4"/>
<circle cx="122.65" cy="406.1" r="8.1" fill="#000"/>
<circle cx="153.2" cy="375.3" r="8.1" fill="#000"/>
<circle cx="165.6" cy="340.2" r="8.1" fill="#000"/>
<circle cx="183.5" cy="335.8" r="8.1" fill="#000"/>
<circle cx="213.6" cy="313.9" r="8.1" fill="#000"/>
<circle cx="244.5" cy="283.1" r="8.1" fill="#000"/>
<circle cx="304.5" cy="257.7" r="8.1" fill="#000"/>
<circle cx="395.3" cy="197.2" r="8.1" fill="#000"/>
<circle cx="487" cy="156.3" r="8.1" fill="#000"/>
</svg></body></html>
